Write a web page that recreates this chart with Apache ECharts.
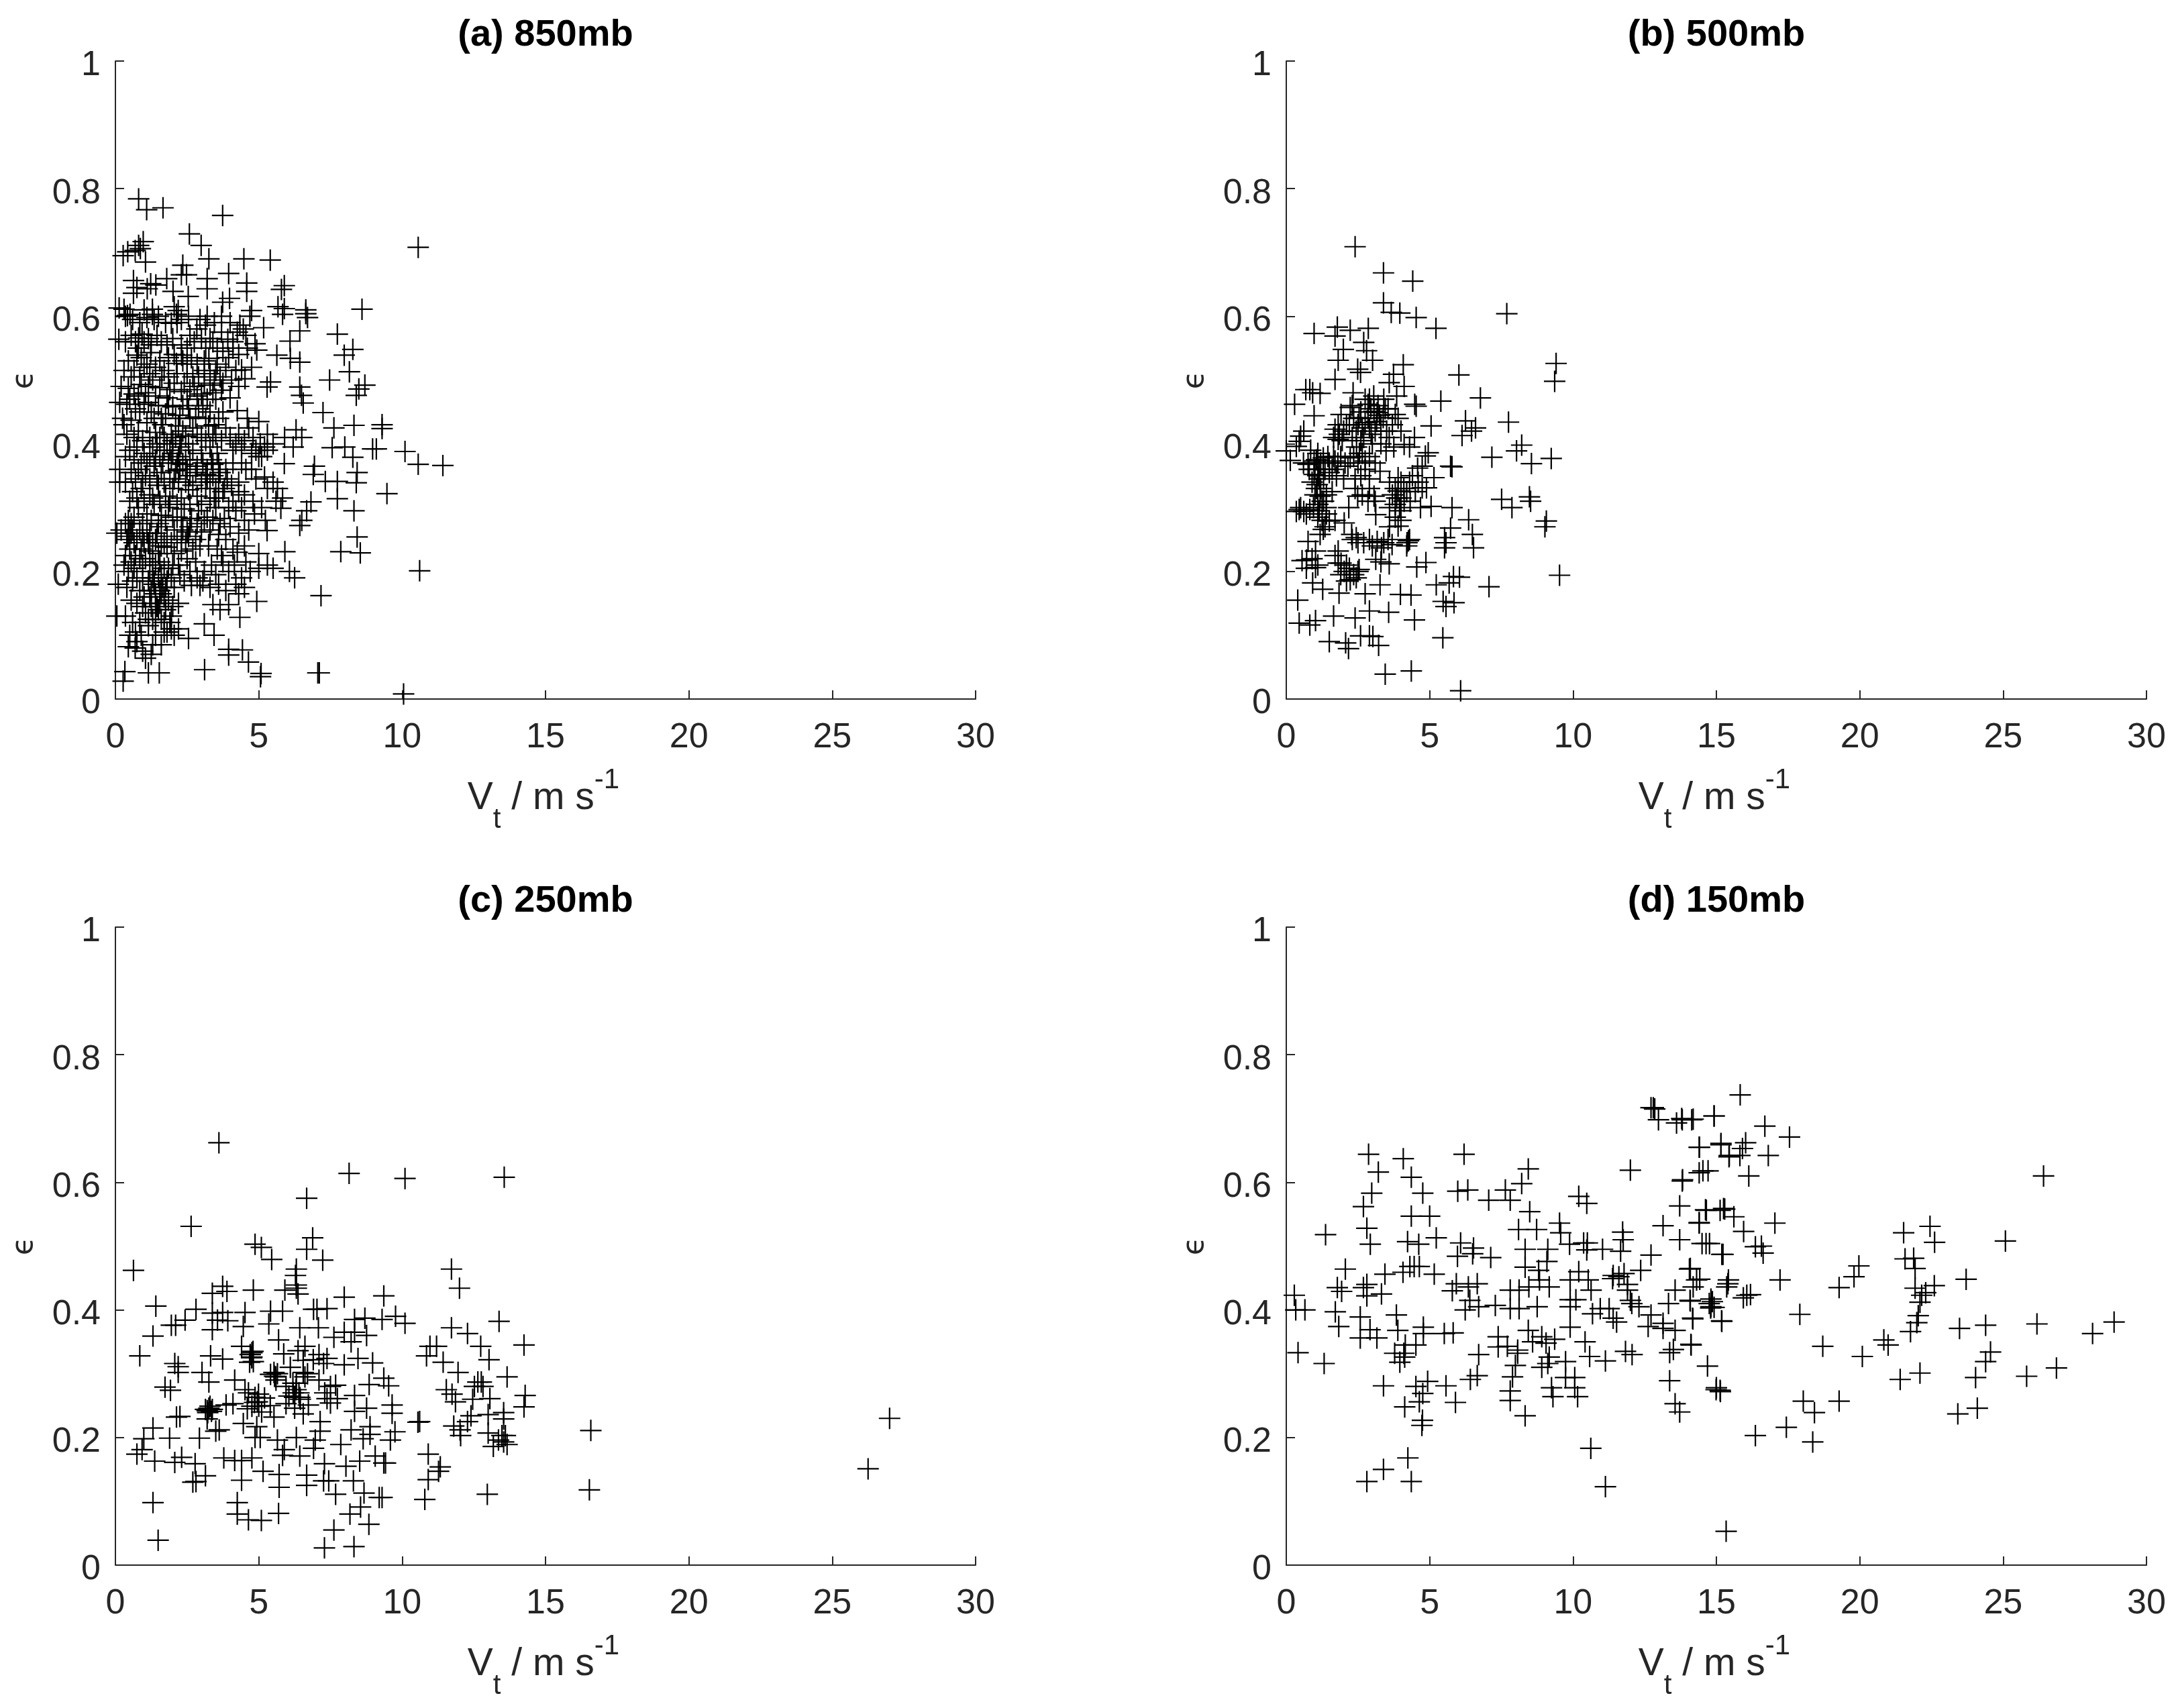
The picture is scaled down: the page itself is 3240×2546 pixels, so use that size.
<!DOCTYPE html>
<html>
<head>
<meta charset="utf-8">
<title>Vt vs epsilon</title>
<script src="https://cdn.jsdelivr.net/npm/echarts@6/dist/echarts.min.js"></script>
<style>
html,body{margin:0;padding:0;background:#fff;}
#main{width:3240px;height:2546px;}
</style>
</head>
<body>
<div id="main"></div>
<script type="text/javascript">
var panelTitles = ['(a) 850mb', '(b) 500mb', '(c) 250mb', '(d) 150mb'];
var xTicks = [0, 30, 5];
var yTicks = [0, 1, 0.2];

// values: [Vt, epsilon]
var points850 = [
[.81,.784],[1.09,.767],[1.66,.77],[3.74,.758],[2.58,.729],[2.99,.711],[10.56,.708],[3.26,.69],[4.48,.69],[5.4,.688],
[.27,.695],[.43,.701],[.69,.703],[.81,.711],[.97,.717],[.87,.706],[1.05,.685],[2.35,.68],[2.3,.665],[2.48,.665],
[3.95,.667],[3.2,.659],[3.2,.643],[4.58,.652],[4.58,.639],[5.89,.648],[5.79,.642],[.63,.656],[.75,.645],[.63,.636],
[1.23,.651],[1.41,.649],[1.11,.643],[1.79,.659],[2.01,.639],[2.54,.631],[3.74,.622],[3.98,.628],[.13,.613],[.3,.611],
[.51,.603],[.42,.601],[1.29,.611],[1.29,.603],[2.13,.603],[2.19,.609],[3.2,.6],[4.75,.609],[4.69,.6],[5.67,.615],
[5.83,.603],[5.89,.612],[6.64,.604],[6.64,.61],[6.7,.598],[8.6,.611],[.12,.564],[.81,.566],[.93,.572],[1.95,.589],
[2.84,.58],[3.14,.586],[4.34,.586],[4.46,.58],[5.17,.582],[6.43,.577],[6.09,.561],[7.74,.572],[8.28,.548],[7.98,.539],
[8.16,.513],[5.63,.539],[6.1,.534],[6.43,.528],[4.87,.557],[4.93,.547],[3.92,.564],[4.1,.56],[3.26,.534],[2.31,.539],
[2.13,.526],[1.23,.543],[.75,.539],[4.75,.52],[4.4,.516],[4.52,.502],[3.5,.515],[5.41,.497],[5.29,.489],[7.47,.5],
[8.7,.492],[8.49,.486],[8.4,.476],[6.43,.489],[6.49,.476],[6.55,.464],[.2,.49],[.45,.487],[.65,.478],[.9,.493],
[1.05,.48],[1.3,.5],[1.55,.488],[1.8,.472],[2.05,.495],[2.3,.482],[2.5,.47],[2.75,.49],[3.0,.478],[3.3,.492],
[3.5,.47],[3.7,.484],[4.0,.472],[.4,.462],[.7,.455],[1.0,.462],[1.25,.45],[1.5,.46],[1.75,.447],[2.0,.458],
[2.25,.445],[2.55,.455],[2.8,.442],[3.05,.46],[3.3,.45],[3.6,.44],[4.25,.452],[4.6,.44],[5.0,.435],
[7.24,.449],[7.62,.425],[8.32,.429],[9.3,.424],[9.3,.43],[.3,.43],[.55,.437],[.8,.42],[1.1,.433],[1.4,.418],
[1.65,.43],[1.95,.415],[2.2,.428],[2.45,.412],[2.7,.425],[3.0,.41],[3.25,.428],[3.5,.415],[3.85,.425],[4.3,.415],
[4.65,.425],[5.05,.4],[5.3,.415],[5.5,.4],[5.9,.41],[6.3,.422],[6.5,.41],[6.2,.395],[7.56,.394],[8.0,.395],
[8.28,.379],[8.97,.392],[9.1,.392],[10.1,.388],[10.56,.368],[11.42,.366],[.15,.36],[.15,.34],[.5,.39],[.75,.395],
[1.0,.385],[1.3,.395],[1.55,.38],[1.8,.4],[2.0,.385],[2.25,.395],[2.45,.375],[2.7,.39],[3.0,.385],[3.3,.395],
[3.55,.385],[4.1,.39],[4.4,.395],[4.75,.385],[5.0,.38],[5.3,.39],[5.89,.369],[6.94,.365],[6.9,.352],[7.32,.341],
[7.74,.341],[8.43,.355],[8.4,.339],[9.47,.322],[.55,.355],[.8,.36],[1.05,.35],[1.35,.365],[1.6,.355],[1.85,.37],
[2.1,.358],[2.35,.368],[2.6,.35],[2.85,.365],[3.15,.352],[3.4,.368],[3.65,.355],[3.9,.345],[4.3,.34],[4.55,.36],
[4.9,.345],[5.2,.348],[5.3,.33],[5.65,.33],[5.5,.34],[6.82,.309],[6.67,.295],[7.74,.314],[8.32,.295],[.6,.325],
[.9,.33],[1.2,.32],[1.5,.335],[1.75,.318],[2.0,.33],[2.3,.315],[2.55,.328],[2.85,.318],[3.15,.33],[3.45,.315],
[3.75,.325],[4.1,.31],[4.5,.32],[4.8,.31],[5.1,.3],[5.77,.299],[5.83,.315],[5.6,.31],[.8,.3],[1.1,.29],
[1.35,.305],[1.6,.288],[1.85,.3],[2.15,.285],[2.4,.298],[2.65,.283],[2.9,.295],[3.2,.285],[3.5,.3],[3.8,.283],
[4.2,.295],[4.5,.28],[4.85,.29],[5.29,.264],[5.23,.28],[6.43,.272],[6.5,.28],[8.43,.254],[8.54,.229],[7.86,.231],
[.05,.26],[.2,.265],[.35,.275],[.45,.255],[.55,.26],[.65,.245],[.85,.265],[1.1,.26],[1.3,.245],[1.6,.27],
[1.8,.255],[2.05,.265],[2.3,.25],[2.5,.262],[2.8,.25],[3.0,.262],[3.3,.265],[3.6,.258],[4.3,.26],[4.5,.24],
[4.1,.235],[.5,.235],[.7,.225],[.9,.235],[1.2,.232],[1.5,.228],[1.8,.238],[2.05,.228],[2.3,.232],[2.5,.22],
[3.7,.225],[4.55,.215],[5.0,.228],[5.91,.231],[.3,.21],[.45,.2],[.65,.205],[.95,.21],[1.2,.2],[1.4,.21],
[1.6,.195],[1.85,.205],[2.6,.2],[2.85,.19],[3.1,.2],[3.5,.195],[3.95,.2],[4.4,.19],[4.7,.2],[5.0,.205],
[5.3,.21],[5.5,.205],[6.07,.2],[6.25,.19],[10.61,.201],[.1,.18],[.4,.175],[.6,.185],[.85,.17],[1.15,.185],
[1.35,.18],[1.55,.17],[1.8,.185],[2.05,.175],[2.4,.185],[2.65,.178],[2.95,.178],[3.3,.175],[4.2,.18],[4.5,.175],
[7.17,.162],[.55,.155],[.75,.15],[.95,.145],[1.2,.16],[1.4,.15],[1.6,.165],[1.85,.155],[2.2,.15],[3.4,.148],
[3.65,.14],[3.95,.148],[4.93,.153],[.05,.13],[.35,.13],[1.05,.135],[1.3,.125],[1.5,.14],[1.7,.12],[1.95,.13],
[2.2,.11],[2.55,.095],[3.1,.118],[3.44,.1],[4.34,.128],[.5,.1],[.7,.105],[.9,.1],[1.15,.115],[1.4,.1],
[1.8,.105],[.45,.082],[.69,.08],[.95,.075],[1.6,.085],[3.95,.069],[3.95,.078],[4.43,.077],[1.05,.064],[1.25,.07],
[4.64,.058],[.33,.043],[.27,.028],[1.15,.041],[1.53,.041],[3.11,.046],[5.08,.04],[5.06,.035],[7.06,.041],[7.11,.041],
[10.05,.008],[1.2,.38],[1.55,.41],[1.9,.39],[2.15,.37],[2.3,.4],[1.9,.345],[2.2,.34],[2.5,.36],[2.0,.405],
[2.2,.38],[1.7,.39],[3.3,.34],[3.5,.33],[3.2,.36],[3.4,.35],[1.4,.25],[1.6,.24],[1.2,.26],[1.0,.245],
[.55,.275],[.45,.28],[.5,.265],[2.35,.265],[2.45,.245],[2.55,.255],[1.35,.185],[1.5,.19],[1.65,.175],[1.4,.165],
[1.7,.16],[1.45,.145],[1.9,.12],[1.95,.11],[1.7,.105],[.85,.45],[1.55,.53],[2.5,.51],[2.35,.53],[2.5,.525],
[3.3,.51],[3.45,.5],[3.65,.505],[2.9,.505],[1.0,.52],[.65,.515],[.55,.505],[1.7,.515],[.7,.56],[.8,.55],
[1.15,.565],[1.45,.57],[1.8,.555],[3.0,.565],[3.4,.56],[3.7,.575],[3.75,.545],[4.1,.55],[1.0,.61],[1.35,.595],
[2.05,.615],[2.15,.59],[2.6,.57],[2.5,.55],
[1.15,.49],[1.4,.475],[1.62,.505],[1.9,.485],[2.15,.51],[2.4,.495],[2.6,.485],[2.85,.475],[3.1,.495],[3.2,.47],
[3.4,.48],[3.75,.495],[.5,.47],[.8,.475],[1.15,.465],[1.35,.44],[1.6,.44],[1.85,.46],[2.1,.44],[2.35,.46],
[2.6,.44],[2.9,.455],[3.15,.44],[3.45,.43],[3.75,.45],[.4,.415],[.65,.41],[.95,.405],[1.2,.41],[1.45,.4],
[1.7,.41],[2.1,.41],[2.35,.42],[2.55,.4],[2.85,.415],[3.15,.405],[3.4,.41],[3.7,.405],[4.0,.41],[4.2,.4],
[4.5,.405],[4.8,.41],[5.2,.395],[5.1,.38],[4.9,.39],[.35,.38],[.65,.375],[.9,.37],[1.1,.37],[1.4,.375],
[1.65,.37],[1.95,.375],[2.25,.36],[2.6,.375],[2.8,.355],[3.05,.37],[3.35,.375],[3.6,.37],[3.85,.36],[4.1,.37],
[4.4,.37],[4.75,.36],[.35,.34],[.7,.345],[.95,.34],[1.2,.345],[1.45,.345],[1.7,.34],[2.05,.345],[2.45,.34],
[2.7,.335],[3.0,.34],[3.2,.345],[3.6,.34],[3.8,.33],[4.05,.335],[4.3,.325],[.5,.31],[.75,.315],[1.0,.31],
[1.3,.315],[1.55,.31],[1.9,.31],[2.15,.305],[2.6,.305],[3.0,.305],[3.3,.31],[3.6,.315],[3.95,.3],[4.4,.3],
[.65,.285],[.95,.275],[1.25,.28],[1.5,.275],[1.75,.28],[2.0,.285],[2.3,.28],[2.6,.27],[2.85,.275],[3.1,.28],
[3.4,.28],[3.65,.275],[4.0,.27],[4.65,.265],[.4,.25],[.6,.265],[.75,.25],[.95,.255],[1.15,.245],[1.45,.26],
[1.7,.245],[1.95,.245],[2.15,.25],[2.7,.235],[2.95,.24],[3.25,.24],[3.55,.235],[3.85,.25],[4.25,.23],[.35,.225],
[.55,.215],[.85,.22],[1.05,.22],[1.3,.215],[1.55,.215],[1.7,.205],[2.0,.21],[2.2,.21],[2.8,.215],[3.35,.21],
[3.75,.215],[4.15,.21],[.75,.19],[.95,.185],[1.25,.17],[1.3,.19],[1.75,.175],[1.95,.19],[2.25,.195],[3.05,.185],
[3.6,.18],[3.85,.17],[4.3,.165],[1.0,.16],[1.55,.15],[1.75,.14],[1.25,.145],[1.15,.125],[1.4,.125],[1.6,.125],
[2.0,.145],[.6,.12],[.85,.12],[2.05,.1],[1.3,.085],[.75,.09],
[.35,.6],[.6,.595],[.85,.59],[1.1,.598],[1.5,.6],[1.75,.59],[2.3,.595],[2.55,.6],[2.95,.595],[3.45,.59],
[3.7,.6],[4.0,.59],[4.25,.575],[4.55,.57],[.35,.56],[.55,.57],[1.0,.56],[1.25,.555],[1.6,.56],[2.0,.565],
[2.3,.555],[2.75,.56],[3.15,.55],[3.3,.565],[3.55,.55],[3.95,.535],[4.3,.54],[4.6,.55],[.45,.53],[.9,.535],
[1.1,.525],[1.4,.52],[1.85,.535],[2.05,.54],[2.65,.535],[2.85,.525],[3.1,.515],[3.55,.525],[3.85,.52],[4.2,.515],
[.3,.515],[.85,.505],[1.2,.51],[1.85,.505],[2.7,.505],[3.1,.53],[4.05,.5],[4.3,.49],[.15,.465],[.25,.44]
];
var points500 = [
[2.4,.709],[3.39,.668],[4.41,.655],[3.39,.621],[3.66,.606],[3.96,.605],[4.53,.598],[5.22,.581],[7.69,.604],[.97,.573],
[1.78,.583],[1.7,.569],[2.23,.578],[2.86,.581],[2.7,.559],[1.99,.548],[2.8,.546],[3.01,.531],[1.81,.531],[4.08,.524],
[2.49,.517],[2.59,.512],[3.74,.509],[3.59,.496],[6.02,.508],[9.41,.526],[9.36,.498],[6.77,.472],[5.39,.467],[1.7,.501],
[2.33,.48],[.68,.485],[.82,.485],[.92,.48],[1.18,.479],[.29,.462],[.97,.444],[4.11,.49],[3.85,.475],[4.53,.459],
[4.48,.462],[2.85,.462],[3.06,.451],[3.17,.449],[2.23,.457],[1.91,.446],[2.54,.441],[1.81,.43],[3.38,.441],[3.8,.446],
[5.05,.428],[6.25,.436],[6.6,.425],[6.46,.42],[6.13,.413],[7.75,.434],[8.21,.398],[8.03,.389],[8.55,.369],[9.24,.377],
[7.17,.379],[4.95,.386],[4.85,.381],[5.73,.365],[5.78,.364],[.61,.42],[.5,.412],[.45,.404],[0,.389],[.14,.374],
[.35,.396],[.76,.368],[.97,.373],[1.7,.423],[1.81,.407],[2.44,.42],[2.75,.433],[2.96,.415],[3.59,.41],[4.0,.42],
[4.11,.399],[4.47,.41],[1.29,.378],[1.7,.373],[2.23,.378],[2.75,.373],[3.48,.389],[3.27,.357],[3.9,.347],[4.58,.362],
[4.74,.365],[5.15,.347],[4.89,.331],[4.74,.331],[.97,.352],[1.08,.336],[1.18,.318],[.45,.297],[.61,.294],[.35,.294],
[.82,.297],[1.39,.3],[1.5,.279],[1.29,.266],[1.18,.258],[2.49,.318],[2.85,.31],[3.06,.318],[3.9,.326],[4.11,.31],
[4.32,.31],[4.68,.3],[5.05,.302],[5.78,.3],[3.12,.289],[2.18,.3],[2.02,.276],[3.9,.271],[6.36,.281],[5.73,.268],
[6.49,.258],[5.52,.253],[5.57,.245],[5.52,.237],[6.53,.237],[7.51,.313],[7.87,.3],[8.48,.317],[8.52,.31],[9.07,.279],
[9.02,.27],[9.53,.194],[.76,.247],[1.02,.232],[.55,.217],[.71,.218],[1.02,.206],[1.81,.232],[1.81,.213],[2.44,.253],
[2.28,.258],[3.17,.247],[3.32,.237],[3.69,.242],[4.21,.245],[4.26,.248],[3.12,.219],[3.59,.212],[4.87,.214],[4.55,.207],
[1.91,.213],[2.02,.2],[2.23,.187],[2.44,.19],[2.54,.203],[.92,.182],[1.27,.172],[1.84,.166],[2.75,.165],[3.27,.179],
[3.98,.164],[4.35,.163],[5.23,.179],[5.68,.182],[6.04,.191],[5.83,.192],[7.07,.176],[5.47,.153],[5.85,.151],[5.57,.145],
[.4,.155],[.45,.119],[.82,.116],[1.02,.123],[1.65,.13],[2.4,.127],[2.9,.138],[3.57,.136],[4.47,.124],[1.5,.09],
[2.07,.088],[2.17,.079],[2.59,.099],[2.9,.099],[3.02,.098],[3.22,.084],[5.46,.096],[3.45,.039],[4.36,.044],[6.08,.013],
[2.3,.46],[2.6,.45],[2.9,.47],[3.2,.46],[3.4,.47],[3.55,.455],[3.7,.43],[3.9,.44],[2.1,.43],[2.3,.41],
[2.6,.405],[2.85,.44],[3.1,.42],[3.3,.43],[3.5,.42],[1.65,.41],[1.95,.405],[2.2,.43],[2.45,.395],[2.7,.41],
[3.0,.4],[3.3,.4],[3.75,.395],[4.3,.395],[1.1,.385],[.85,.39],[.6,.37],[.8,.36],[1.0,.36],[1.2,.37],
[1.45,.38],[1.6,.36],[1.9,.38],[2.05,.37],[2.5,.37],[2.65,.385],[2.9,.38],[3.1,.37],[.9,.34],[1.1,.35],
[1.3,.345],[1.5,.355],[1.75,.35],[2.0,.345],[2.4,.345],[2.6,.35],[2.9,.345],[3.6,.34],[3.8,.33],[4.0,.34],
[4.3,.34],[4.6,.34],[1.0,.32],[1.2,.33],[1.4,.32],[1.6,.325],[2.4,.33],[2.65,.32],[2.9,.33],[3.1,.31],
[3.7,.32],[4.0,.315],[4.2,.325],[4.5,.325],[.5,.3],[.7,.29],[.95,.3],[1.15,.295],[1.3,.31],[3.6,.3],
[3.8,.305],[4.0,.295],[1.1,.285],[1.25,.28],[1.35,.27],[1.4,.29],[1.7,.28],[3.6,.27],[3.8,.285],[4.0,.28],
[2.3,.25],[2.5,.245],[2.7,.245],[2.9,.25],[3.0,.24],[3.4,.245],[3.55,.25],[4.2,.24],[4.3,.25],[.9,.22],
[1.1,.21],[.7,.205],[2.1,.21],[2.2,.205],[2.35,.195],[2.1,.185],[1.7,.225],[2.5,.2],[3.3,.215],[1.9,.195],
[2.75,.47],[2.95,.455],[3.05,.475],[3.25,.445],[3.45,.455],[2.5,.43],[2.65,.425],[2.9,.425],[3.15,.435],[1.85,.415],
[2.0,.42],[2.35,.44],[1.05,.375],[1.15,.36],[1.35,.36],[1.5,.37],[1.65,.38],[1.8,.37],[2.15,.365],[2.35,.38],
[2.55,.385],[2.75,.36],[1.05,.33],[1.15,.345],[1.25,.31],[1.1,.305],[4.1,.33],[4.4,.35],[3.85,.315],[3.95,.3]
];
var points250 = [
[3.61,.662],[8.15,.614],[10.1,.606],[13.56,.608],[6.67,.575],[2.64,.531],[4.87,.503],[5.09,.498],[5.45,.479],[6.88,.513],
[6.67,.495],[7.23,.478],[.63,.462],[11.72,.464],[12.0,.434],[13.38,.382],[11.72,.372],[12.28,.363],[12.74,.343],[14.25,.345],
[10.97,.343],[11.2,.343],[10.85,.328],[11.43,.318],[13.03,.322],[11.95,.302],[13.66,.295],[12.64,.287],[12.76,.287],[12.52,.28],
[12.82,.28],[11.54,.275],[11.74,.268],[11.86,.256],[12.46,.26],[13.06,.261],[14.29,.266],[14.25,.248],[12.28,.225],[12.4,.234],
[13.0,.236],[13.54,.239],[13.54,.229],[11.8,.218],[12.02,.212],[12.04,.203],[13.0,.207],[13.48,.203],[13.6,.203],[13.36,.196],
[13.54,.193],[13.66,.189],[13.18,.186],[16.58,.211],[16.53,.118],[12.97,.111],[10.91,.174],[11.33,.154],[11.27,.147],[10.91,.134],
[10.79,.103],[10.55,.224],[10.61,.225],[9.77,.39],[10.1,.379],[9.36,.422],[9.3,.385],[8.7,.387],[8.34,.385],[7.98,.42],
[7.38,.402],[6.91,.401],[7.03,.401],[6.31,.464],[6.28,.454],[6.31,.439],[6.31,.434],[6.37,.425],[5.91,.431],[4.81,.431],
[3.89,.429],[3.74,.437],[3.38,.426],[1.41,.406],[2.81,.401],[2.43,.384],[1.95,.376],[2.1,.376],[1.31,.359],[.85,.328],
[3.38,.395],[3.74,.396],[3.56,.384],[3.92,.383],[3.38,.369],[4.52,.396],[4.46,.374],[5.41,.398],[5.83,.398],[5.35,.378],
[5.69,.353],[6.43,.372],[7.08,.372],[7.62,.357],[7.98,.365],[8.34,.365],[8.22,.35],[8.76,.36],[6.61,.343],[6.37,.336],
[4.4,.343],[4.76,.333],[4.76,.326],[4.81,.319],[3.32,.328],[3.74,.323],[2.07,.316],[2.19,.311],[2.19,.302],[3.02,.302],
[3.26,.287],[4.16,.29],[1.73,.279],[1.92,.274],[4.52,.275],[5.87,.331],[6.55,.321],[7.38,.324],[7.26,.316],[7.98,.314],
[8.46,.324],[8.97,.317],[9.36,.293],[9.53,.281],[8.85,.283],[5.53,.302],[5.59,.295],[5.41,.299],[6.55,.302],[6.61,.295],
[6.31,.285],[6.19,.285],[7.68,.282],[7.74,.261],[7.38,.261],[6.25,.263],[6.43,.263],[4.87,.263],[4.99,.268],[4.64,.27],
[4.1,.253],[3.26,.246],[3.14,.244],[3.38,.244],[2.25,.233],[2.13,.232],[3.2,.229],[3.86,.251],[4.76,.249],[5.0,.249],
[5.95,.253],[6.25,.246],[6.73,.251],[7.5,.254],[8.34,.266],[8.76,.246],[8.34,.241],[8.88,.217],[9.65,.251],[9.65,.238],
[9.75,.209],[9.59,.196],[8.22,.212],[8.64,.198],[8.88,.205],[7.86,.189],[6.97,.196],[6.91,.183],[7.14,.225],[7.14,.21],
[6.31,.2],[5.53,.232],[6.55,.237],[4.46,.222],[4.93,.217],[3.62,.212],[3.5,.21],[4.87,.2],[5.05,.2],[5.65,.196],
[5.89,.181],[5.83,.172],[1.31,.215],[.99,.198],[1.89,.199],[2.93,.199],[.93,.181],[.75,.174],[1.37,.163],[2.07,.161],
[2.31,.169],[2.78,.159],[3.78,.168],[4.16,.164],[4.4,.164],[4.76,.168],[4.4,.133],[5.15,.147],[5.71,.142],[6.43,.171],
[6.67,.141],[6.67,.125],[5.71,.122],[7.29,.159],[7.26,.132],[7.44,.132],[7.68,.111],[8.04,.155],[8.52,.163],[9.06,.171],
[9.36,.16],[9.42,.16],[8.3,.132],[8.67,.113],[9.2,.106],[9.3,.106],[2.7,.13],[2.81,.131],[3.14,.14],[1.31,.098],
[1.49,.039],[4.25,.098],[4.25,.08],[4.64,.071],[5.09,.07],[5.69,.081],[7.62,.055],[7.29,.027],[8.32,.029],[8.18,.08],
[8.55,.091],[8.84,.064],[26.25,.151],[27.0,.23],
[4.7,.33],[4.75,.325],[4.8,.335],[4.68,.318],[5.55,.296],[5.6,.29],[5.65,.3],[3.2,.242],[3.3,.249],[3.22,.239],
[3.35,.241],[6.3,.275],[6.4,.27],[6.45,.26],[6.2,.27],[5.95,.28],[6.7,.3],[7.1,.29],[7.3,.27],[7.5,.28],
[4.95,.256],[4.85,.255],[5.2,.262],[5.4,.25],[5.1,.24],[6.05,.265],[4.6,.245],[6.1,.31],[6.9,.322],[7.1,.33]
];
var points150 = [
[.28,.423],[.33,.40],[.65,.40],[.41,.333],[1.32,.316],[1.37,.518],[2.06,.464],[1.78,.435],[1.93,.429],[1.71,.397],
[1.83,.374],[2.69,.435],[2.81,.44],[2.81,.422],[3.32,.425],[2.58,.389],[2.58,.356],[2.92,.369],[3.16,.356],[2.87,.644],
[3.21,.616],[2.98,.583],[2.69,.562],[2.81,.528],[2.93,.503],[4.08,.637],[4.36,.608],[4.76,.583],[4.36,.547],[5.0,.547],
[4.23,.507],[4.62,.503],[5.23,.513],[3.44,.456],[4.07,.459],[4.31,.468],[4.46,.468],[4.64,.468],[5.16,.456],[6.2,.644],
[5.98,.586],[6.33,.588],[6.08,.505],[6.53,.497],[5.97,.484],[6.5,.488],[7.13,.482],[7.06,.572],[7.64,.588],[7.81,.572],
[8.21,.598],[8.44,.621],[8.49,.554],[8.1,.526],[8.73,.526],[9.53,.536],[9.57,.521],[8.33,.495],[8.33,.467],[9.12,.495],
[9.09,.476],[9.88,.503],[10.37,.505],[10.5,.505],[10.48,.494],[11.03,.495],[10.2,.578],[10.48,.567],[12.0,.619],[11.73,.522],
[11.75,.51],[11.66,.492],[12.72,.486],[12.36,.462],[11.38,.449],[11.78,.457],[13.14,.532],[13.72,.563],[13.82,.604],[14.4,.655],
[15.16,.661],[15.44,.64],[14.4,.615],[14.71,.618],[12.72,.717],[12.8,.717],[12.85,.715],[12.98,.698],[13.61,.693],[13.79,.70],
[14.19,.699],[14.92,.704],[14.65,.556],[15.13,.556],[15.29,.558],[14.4,.537],[13.72,.51],[14.5,.504],[14.76,.504],[15.23,.487],
[14.06,.464],[14.19,.436],[14.42,.448],[15.4,.441],[13.56,.431],[14.08,.415],[13.33,.41],[14.81,.405],[14.75,.41],[14.81,.417],
[14.17,.387],[15.18,.383],[13.14,.379],[13.14,.371],[12.62,.374],[13.56,.368],[12.72,.392],[13.5,.338],[13.37,.333],[14.11,.346],
[14.69,.312],[15.0,.278],[15.13,.274],[13.37,.289],[13.56,.253],[13.72,.24],[15.34,.053],[10.62,.183],[11.13,.123],[4.24,.168],
[3.39,.15],[2.81,.131],[4.36,.131],[4.75,.227],[4.73,.219],[4.13,.248],[4.64,.256],[4.76,.269],[3.39,.281],[4.52,.28],
[4.93,.288],[5.57,.281],[5.9,.255],[6.42,.291],[6.66,.297],[6.71,.33],[7.81,.273],[7.81,.258],[7.89,.295],[7.99,.313],
[8.33,.234],[9.25,.278],[9.3,.264],[10.16,.264],[10.06,.278],[9.74,.294],[10.06,.294],[8.91,.31],[9.12,.316],[9.74,.319],
[7.39,.358],[7.39,.342],[7.71,.343],[8.07,.337],[8.07,.332],[8.44,.368],[8.59,.35],[8.91,.358],[9.06,.348],[9.36,.354],
[9.17,.326],[10.42,.35],[10.58,.327],[11.13,.32],[11.83,.335],[12.06,.33],[9.9,.373],[9.9,.416],[10.1,.416],[9.9,.405],
[10.2,.46],[10.53,.447],[9.9,.447],[10.63,.431],[10.95,.402],[10.68,.394],[11.4,.387],[11.52,.381],[11.26,.402],[12.05,.41],
[11.9,.431],[11.9,.44],[12.0,.415],[12.3,.405],[11.4,.454],[11.6,.452],[8.75,.405],[8.12,.402],[7.81,.402],[7.29,.407],
[8.12,.431],[8.46,.436],[8.8,.462],[8.83,.447],[9.17,.436],[7.81,.431],[6.35,.436],[5.93,.441],[5.79,.43],[6.66,.441],
[6.4,.415],[6.24,.4],[6.71,.405],[3.84,.392],[3.89,.368],[4.78,.373],[4.78,.363],[5.51,.363],[5.82,.364],[4.52,.345],
[4.15,.345],[3.78,.332],[4.1,.332],[3.96,.318],[4.13,.326],[15.83,.737],[14.92,.704],[14.14,.698],[13.81,.698],[16.69,.688],
[17.55,.671],[14.41,.655],[15.16,.659],[16.02,.662],[15.91,.653],[15.45,.642],[15.82,.642],[16.81,.642],[14.53,.618],[16.13,.61],
[13.81,.602],[26.41,.61],[15.25,.559],[14.62,.557],[15.61,.546],[14.4,.536],[15.95,.523],[17.04,.536],[14.64,.504],[15.19,.487],
[16.36,.499],[16.57,.5],[16.63,.489],[14.09,.465],[14.31,.447],[15.42,.447],[15.36,.436],[17.22,.447],[16.19,.424],[16.06,.423],
[15.94,.419],[14.09,.414],[14.86,.413],[14.8,.403],[14.92,.404],[15.19,.382],[14.18,.386],[14.12,.345],[14.99,.275],[15.14,.272],
[17.91,.393],[18.71,.343],[20.09,.327],[19.28,.435],[19.8,.452],[19.97,.469],[20.84,.353],[20.99,.345],[21.53,.521],[22.45,.531],
[22.61,.506],[21.58,.48],[21.88,.481],[21.93,.465],[21.93,.434],[22.6,.438],[22.3,.427],[22.16,.423],[22.1,.412],[22.04,.391],
[21.99,.38],[21.77,.366],[21.41,.291],[22.1,.301],[23.71,.448],[25.08,.508],[23.48,.371],[24.39,.376],[24.56,.334],[24.39,.319],
[24.04,.294],[23.42,.237],[24.1,.246],[26.18,.378],[25.82,.296],[26.86,.309],[28.12,.363],[28.87,.381],[16.36,.203],[17.44,.216],
[18.03,.257],[18.42,.239],[19.28,.257],[18.36,.193]
];

var panelPoints = [points850, points500, points250, points150];
var panelLeft = [172, 1917, 172, 1917];
var panelTop = [91, 91, 1382, 1382];

var axisColor = '#262626';
var fontName = '"Liberation Sans", Arial, sans-serif';

var titles = [], grids = [], xAxes = [], yAxes = [], series = [];
for (var i = 0; i < 4; i++) {
	titles.push({
		text: panelTitles[i],
		left: panelLeft[i] + 636,
		top: panelTop[i] - 71,
		textAlign: 'center',
		textStyle: { fontFamily: fontName, fontSize: 56, fontWeight: 'bold', color: '#000' }
	});
	grids.push({ left: panelLeft[i], top: panelTop[i], width: 1282, height: 951 });
	xAxes.push({
		gridIndex: i,
		type: 'value',
		min: xTicks[0], max: xTicks[1], interval: xTicks[2],
		splitLine: { show: false },
		axisLine: { onZero: false, lineStyle: { color: axisColor, width: 2 } },
		axisTick: { inside: true, length: 13, lineStyle: { color: axisColor, width: 2 } },
		axisLabel: { color: axisColor, fontFamily: fontName, fontSize: 52, margin: 32 },
		name: '{v|V}{sub|t}{v| / m s}{sup|-1}',
		nameLocation: 'middle',
		nameGap: 95,
		nameTextStyle: {
			padding: [0, 6, 0, 0],
			rich: {
				v: { fontFamily: fontName, fontSize: 57, color: axisColor, lineHeight: 106 },
				sub: { fontFamily: fontName, fontSize: 42, color: axisColor, lineHeight: 106, verticalAlign: 'bottom' },
				sup: { fontFamily: fontName, fontSize: 42, color: axisColor, lineHeight: 106, height: 52, verticalAlign: 'top' }
			}
		}
	});
	yAxes.push({
		gridIndex: i,
		type: 'value',
		min: yTicks[0], max: yTicks[1], interval: yTicks[2],
		splitLine: { show: false },
		axisLine: { onZero: false, lineStyle: { color: axisColor, width: 2 } },
		axisTick: { inside: true, length: 13, lineStyle: { color: axisColor, width: 2 } },
		axisLabel: { color: axisColor, fontFamily: fontName, fontSize: 52, margin: 22, verticalAlign: 'top', lineHeight: 14 },
		name: '\u03f5',
		nameLocation: 'middle',
		nameRotate: 90,
		nameGap: 113,
		nameTextStyle: { color: axisColor, fontFamily: '"DejaVu Sans"', fontSize: 45 }
	});
	series.push({
		type: 'scatter',
		xAxisIndex: i,
		yAxisIndex: i,
		data: panelPoints[i],
		symbol: 'path://M16,0V32M0,16H32',
		symbolSize: 32,
		clip: false,
		silent: true,
		itemStyle: { color: 'none', borderColor: '#000', borderWidth: 2.2, opacity: 1 }
	});
}

var myChart = echarts.init(document.getElementById('main'), null, { renderer: 'canvas' });
myChart.setOption({
	animation: false,
	backgroundColor: '#fff',
	title: titles,
	grid: grids,
	xAxis: xAxes,
	yAxis: yAxes,
	series: series
});
</script>
</body>
</html>
